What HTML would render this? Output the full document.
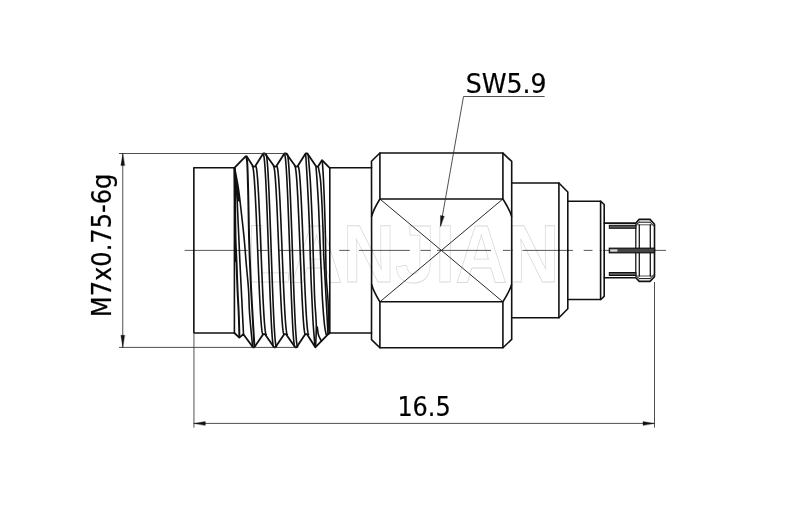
<!DOCTYPE html>
<html lang="en">
<head>
<meta charset="utf-8">
<title>Connector drawing</title>
<style>
html,body{margin:0;padding:0;background:#fff;}
body{width:800px;height:508px;overflow:hidden;}
svg{display:block;will-change:transform;}
</style>
</head>
<body>
<svg width="800" height="508" viewBox="0 0 800 508">
<rect x="0" y="0" width="800" height="508" fill="#fff"/>
<text id="wm" x="246.5" y="282" font-family="'Liberation Sans', sans-serif" font-weight="bold" font-size="81" fill="none" stroke="#dadada" stroke-width="0.8" textLength="313" lengthAdjust="spacingAndGlyphs">LANJIAN</text>
<line x1="184.60" y1="250.40" x2="247.80" y2="250.40" stroke="#303030" stroke-width="0.8" />
<line x1="257.40" y1="250.40" x2="267.80" y2="250.40" stroke="#303030" stroke-width="0.8" />
<line x1="278.00" y1="250.40" x2="330.00" y2="250.40" stroke="#303030" stroke-width="0.8" />
<line x1="339.20" y1="250.40" x2="349.60" y2="250.40" stroke="#303030" stroke-width="0.8" />
<line x1="359.00" y1="250.40" x2="409.80" y2="250.40" stroke="#303030" stroke-width="0.8" />
<line x1="420.50" y1="250.40" x2="430.60" y2="250.40" stroke="#303030" stroke-width="0.8" />
<line x1="437.00" y1="250.40" x2="491.00" y2="250.40" stroke="#303030" stroke-width="0.8" />
<line x1="503.00" y1="250.40" x2="510.50" y2="250.40" stroke="#303030" stroke-width="0.8" />
<line x1="522.50" y1="250.40" x2="573.00" y2="250.40" stroke="#303030" stroke-width="0.8" />
<line x1="583.70" y1="250.40" x2="592.50" y2="250.40" stroke="#303030" stroke-width="0.8" />
<line x1="604.50" y1="250.40" x2="666.00" y2="250.40" stroke="#303030" stroke-width="0.8" />
<polyline points="234.40,167.80 193.85,167.80 193.85,250.40" fill="none" stroke="#111" stroke-width="1.6" stroke-linejoin="round" stroke-linecap="round" />
<polyline points="234.40,333.00 193.85,333.00 193.85,250.40" fill="none" stroke="#111" stroke-width="1.6" stroke-linejoin="round" stroke-linecap="round" />
<polyline points="234.40,167.80 245.60,156.30 246.60,156.30 253.20,166.60 255.00,166.60 263.20,153.50 265.00,153.50 274.30,166.60 276.10,166.60 284.40,153.50 286.20,153.50 295.60,166.60 297.40,166.60 305.60,153.50 307.40,153.50 316.20,166.60 318.00,166.60 322.00,160.20 329.60,167.80" fill="none" stroke="#111" stroke-width="1.8" stroke-linejoin="round" stroke-linecap="round" />
<polyline points="234.40,333.00 239.30,337.60 243.40,334.20 252.90,347.30 254.30,347.30 263.20,334.20 265.00,334.20 274.00,347.30 275.40,347.30 284.20,334.20 286.00,334.20 295.20,347.30 296.60,347.30 305.20,334.20 307.00,334.20 315.30,347.30 328.20,334.20 329.80,333.00" fill="none" stroke="#111" stroke-width="1.8" stroke-linejoin="round" stroke-linecap="round" />
<line x1="329.80" y1="167.80" x2="329.80" y2="333.00" stroke="#111" stroke-width="1.6" />
<line x1="234.40" y1="167.80" x2="234.40" y2="333.00" stroke="#111" stroke-width="1.6" />
<polyline points="263.20,154.00 263.46,154.30 263.73,155.19 263.99,156.66 264.26,158.72 264.52,161.34 264.78,164.51 265.05,168.21 265.31,172.41 265.57,177.10 265.84,182.23 266.10,187.79 266.37,193.74 266.63,200.03 266.89,206.64 267.16,213.51 267.42,220.61 267.68,227.90 267.95,235.32 268.21,242.84 268.48,250.40 268.74,257.96 269.00,265.48 269.27,272.90 269.53,280.19 269.79,287.29 270.06,294.16 270.32,300.77 270.59,307.06 270.85,313.01 271.11,318.57 271.38,323.70 271.64,328.39 271.90,332.59 272.17,336.29 272.43,339.46 272.70,342.08 272.96,344.14 273.22,345.61 273.49,346.50 273.75,346.80" fill="none" stroke="#111" stroke-width="1.6" stroke-linejoin="round" stroke-linecap="round" />
<polyline points="265.90,154.00 266.16,154.30 266.43,155.19 266.69,156.66 266.96,158.72 267.22,161.34 267.48,164.51 267.75,168.21 268.01,172.41 268.27,177.10 268.54,182.23 268.80,187.79 269.07,193.74 269.33,200.03 269.59,206.64 269.86,213.51 270.12,220.61 270.38,227.90 270.65,235.32 270.91,242.84 271.18,250.40 271.44,257.96 271.70,265.48 271.97,272.90 272.23,280.19 272.49,287.29 272.76,294.16 273.02,300.77 273.29,307.06 273.55,313.01 273.81,318.57 274.08,323.70 274.34,328.39 274.60,332.59 274.87,336.29 275.13,339.46 275.40,342.08 275.66,344.14 275.92,345.61 276.19,346.50 276.45,346.80" fill="none" stroke="#111" stroke-width="1.6" stroke-linejoin="round" stroke-linecap="round" />
<polyline points="284.40,154.00 284.66,154.30 284.93,155.19 285.19,156.66 285.46,158.72 285.72,161.34 285.98,164.51 286.25,168.21 286.51,172.41 286.77,177.10 287.04,182.23 287.30,187.79 287.57,193.74 287.83,200.03 288.09,206.64 288.36,213.51 288.62,220.61 288.88,227.90 289.15,235.32 289.41,242.84 289.68,250.40 289.94,257.96 290.20,265.48 290.47,272.90 290.73,280.19 290.99,287.29 291.26,294.16 291.52,300.77 291.79,307.06 292.05,313.01 292.31,318.57 292.58,323.70 292.84,328.39 293.10,332.59 293.37,336.29 293.63,339.46 293.90,342.08 294.16,344.14 294.42,345.61 294.69,346.50 294.95,346.80" fill="none" stroke="#111" stroke-width="1.6" stroke-linejoin="round" stroke-linecap="round" />
<polyline points="287.10,154.00 287.36,154.30 287.63,155.19 287.89,156.66 288.16,158.72 288.42,161.34 288.68,164.51 288.95,168.21 289.21,172.41 289.47,177.10 289.74,182.23 290.00,187.79 290.27,193.74 290.53,200.03 290.79,206.64 291.06,213.51 291.32,220.61 291.58,227.90 291.85,235.32 292.11,242.84 292.38,250.40 292.64,257.96 292.90,265.48 293.17,272.90 293.43,280.19 293.69,287.29 293.96,294.16 294.22,300.77 294.49,307.06 294.75,313.01 295.01,318.57 295.28,323.70 295.54,328.39 295.80,332.59 296.07,336.29 296.33,339.46 296.60,342.08 296.86,344.14 297.12,345.61 297.39,346.50 297.65,346.80" fill="none" stroke="#111" stroke-width="1.6" stroke-linejoin="round" stroke-linecap="round" />
<polyline points="252.40,166.30 252.66,166.56 252.93,167.34 253.19,168.62 253.46,170.42 253.72,172.70 253.98,175.47 254.25,178.69 254.51,182.36 254.77,186.45 255.04,190.93 255.30,195.78 255.56,200.97 255.83,206.46 256.09,212.22 256.36,218.22 256.62,224.41 256.88,230.77 257.15,237.24 257.41,243.80 257.68,250.40 257.94,257.00 258.20,263.56 258.47,270.03 258.73,276.39 258.99,282.58 259.26,288.58 259.52,294.34 259.79,299.83 260.05,305.02 260.31,309.87 260.58,314.35 260.84,318.44 261.10,322.11 261.37,325.33 261.63,328.10 261.89,330.38 262.16,332.18 262.42,333.46 262.69,334.24 262.95,334.50" fill="none" stroke="#111" stroke-width="1.6" stroke-linejoin="round" stroke-linecap="round" />
<polyline points="255.70,166.30 255.96,166.56 256.23,167.34 256.49,168.62 256.75,170.42 257.02,172.70 257.28,175.47 257.55,178.69 257.81,182.36 258.07,186.45 258.34,190.93 258.60,195.78 258.87,200.97 259.13,206.46 259.39,212.22 259.66,218.22 259.92,224.41 260.18,230.77 260.45,237.24 260.71,243.80 260.97,250.40 261.24,257.00 261.50,263.56 261.77,270.03 262.03,276.39 262.29,282.58 262.56,288.58 262.82,294.34 263.08,299.83 263.35,305.02 263.61,309.87 263.88,314.35 264.14,318.44 264.40,322.11 264.67,325.33 264.93,328.10 265.19,330.38 265.46,332.18 265.72,333.46 265.99,334.24 266.25,334.50" fill="none" stroke="#111" stroke-width="1.6" stroke-linejoin="round" stroke-linecap="round" />
<polyline points="273.50,166.30 273.76,166.56 274.03,167.34 274.29,168.62 274.56,170.42 274.82,172.70 275.08,175.47 275.35,178.69 275.61,182.36 275.87,186.45 276.14,190.93 276.40,195.78 276.67,200.97 276.93,206.46 277.19,212.22 277.46,218.22 277.72,224.41 277.98,230.77 278.25,237.24 278.51,243.80 278.77,250.40 279.04,257.00 279.30,263.56 279.57,270.03 279.83,276.39 280.09,282.58 280.36,288.58 280.62,294.34 280.88,299.83 281.15,305.02 281.41,309.87 281.68,314.35 281.94,318.44 282.20,322.11 282.47,325.33 282.73,328.10 283.00,330.38 283.26,332.18 283.52,333.46 283.79,334.24 284.05,334.50" fill="none" stroke="#111" stroke-width="1.6" stroke-linejoin="round" stroke-linecap="round" />
<polyline points="276.80,166.30 277.06,166.56 277.33,167.34 277.59,168.62 277.86,170.42 278.12,172.70 278.38,175.47 278.65,178.69 278.91,182.36 279.17,186.45 279.44,190.93 279.70,195.78 279.97,200.97 280.23,206.46 280.49,212.22 280.76,218.22 281.02,224.41 281.28,230.77 281.55,237.24 281.81,243.80 282.07,250.40 282.34,257.00 282.60,263.56 282.87,270.03 283.13,276.39 283.39,282.58 283.66,288.58 283.92,294.34 284.19,299.83 284.45,305.02 284.71,309.87 284.98,314.35 285.24,318.44 285.50,322.11 285.77,325.33 286.03,328.10 286.30,330.38 286.56,332.18 286.82,333.46 287.09,334.24 287.35,334.50" fill="none" stroke="#111" stroke-width="1.6" stroke-linejoin="round" stroke-linecap="round" />
<polyline points="294.80,166.30 295.06,166.56 295.33,167.34 295.59,168.62 295.86,170.42 296.12,172.70 296.38,175.47 296.65,178.69 296.91,182.36 297.17,186.45 297.44,190.93 297.70,195.78 297.97,200.97 298.23,206.46 298.49,212.22 298.76,218.22 299.02,224.41 299.28,230.77 299.55,237.24 299.81,243.80 300.07,250.40 300.34,257.00 300.60,263.56 300.87,270.03 301.13,276.39 301.39,282.58 301.66,288.58 301.92,294.34 302.19,299.83 302.45,305.02 302.71,309.87 302.98,314.35 303.24,318.44 303.50,322.11 303.77,325.33 304.03,328.10 304.30,330.38 304.56,332.18 304.82,333.46 305.09,334.24 305.35,334.50" fill="none" stroke="#111" stroke-width="1.6" stroke-linejoin="round" stroke-linecap="round" />
<polyline points="298.10,166.30 298.36,166.56 298.63,167.34 298.89,168.62 299.16,170.42 299.42,172.70 299.68,175.47 299.95,178.69 300.21,182.36 300.47,186.45 300.74,190.93 301.00,195.78 301.27,200.97 301.53,206.46 301.79,212.22 302.06,218.22 302.32,224.41 302.58,230.77 302.85,237.24 303.11,243.80 303.38,250.40 303.64,257.00 303.90,263.56 304.17,270.03 304.43,276.39 304.69,282.58 304.96,288.58 305.22,294.34 305.49,299.83 305.75,305.02 306.01,309.87 306.28,314.35 306.54,318.44 306.80,322.11 307.07,325.33 307.33,328.10 307.60,330.38 307.86,332.18 308.12,333.46 308.39,334.24 308.65,334.50" fill="none" stroke="#111" stroke-width="1.6" stroke-linejoin="round" stroke-linecap="round" />
<path d="M305.70,154.20 C305.96,158.50 306.78,171.53 307.25,180.00 C307.72,188.47 308.12,196.67 308.50,205.00 C308.88,213.33 309.21,221.67 309.50,230.00 C309.79,238.33 310.00,247.00 310.25,255.00 C310.50,263.00 310.71,270.50 311.00,278.00 C311.29,285.50 311.62,292.17 312.00,300.00 C312.38,307.83 312.75,317.25 313.25,325.00 C313.75,332.75 314.71,342.92 315.00,346.50" fill="none" stroke="#111" stroke-width="1.6" stroke-linecap="round"/>
<path d="M308.20,154.60 C308.54,158.83 309.70,171.60 310.25,180.00 C310.80,188.40 311.12,196.67 311.50,205.00 C311.88,213.33 312.21,221.67 312.50,230.00 C312.79,238.33 313.00,247.00 313.25,255.00 C313.50,263.00 313.75,270.50 314.00,278.00 C314.25,285.50 314.37,292.17 314.75,300.00 C315.13,307.83 316.16,317.25 316.30,325.00 C316.44,332.75 315.72,342.92 315.60,346.50" fill="none" stroke="#111" stroke-width="1.6" stroke-linecap="round"/>
<path d="M317.30,327.00 C317.50,328.33 317.83,332.70 318.50,335.00 C319.17,337.30 320.83,339.83 321.30,340.80" fill="none" stroke="#111" stroke-width="1.6" stroke-linecap="round"/>
<path d="M316.00,167.00 C316.17,169.17 316.58,173.67 317.00,180.00 C317.42,186.33 318.08,196.67 318.50,205.00 C318.92,213.33 319.17,221.67 319.50,230.00 C319.83,238.33 320.17,247.00 320.50,255.00 C320.83,263.00 321.17,270.50 321.50,278.00 C321.83,285.50 322.00,292.17 322.50,300.00 C323.00,307.83 323.88,319.25 324.50,325.00 C325.12,330.75 325.92,332.92 326.20,334.50" fill="none" stroke="#111" stroke-width="1.6" stroke-linecap="round"/>
<path d="M318.30,167.00 C318.67,169.17 319.88,173.67 320.50,180.00 C321.12,186.33 321.58,196.67 322.00,205.00 C322.42,213.33 322.71,221.67 323.00,230.00 C323.29,238.33 323.42,247.00 323.75,255.00 C324.08,263.00 324.59,270.50 325.00,278.00 C325.41,285.50 325.78,292.17 326.20,300.00 C326.62,307.83 327.20,319.33 327.50,325.00 C327.80,330.67 327.92,332.50 328.00,334.00" fill="none" stroke="#111" stroke-width="1.6" stroke-linecap="round"/>
<path d="M322.30,160.60 C322.50,163.83 323.13,172.60 323.50,180.00 C323.87,187.40 324.21,196.67 324.50,205.00 C324.79,213.33 325.04,221.67 325.25,230.00 C325.46,238.33 325.57,247.00 325.75,255.00 C325.93,263.00 325.93,270.50 326.30,278.00 C326.68,285.50 327.59,292.17 328.00,300.00 C328.41,307.83 328.55,319.50 328.75,325.00 C328.95,330.50 329.12,331.67 329.20,333.00" fill="none" stroke="#111" stroke-width="1.6" stroke-linecap="round"/>
<line x1="235.10" y1="172.00" x2="235.10" y2="262.00" stroke="#111" stroke-width="2.0" />
<path d="M234.60,168.00 C234.65,171.67 234.82,182.33 234.90,190.00 C234.98,197.67 235.00,205.83 235.10,214.00 C235.20,222.17 235.25,230.67 235.50,239.00 C235.75,247.33 236.27,255.67 236.60,264.00 C236.93,272.33 237.14,280.67 237.50,289.00 C237.86,297.33 238.43,306.00 238.75,314.00 C239.07,322.00 239.29,333.17 239.40,337.00" fill="none" stroke="#111" stroke-width="2.0" stroke-linecap="round"/>
<path d="M234.60,168.00 C234.93,171.50 236.07,181.33 236.60,189.00 C237.12,196.67 237.37,205.67 237.75,214.00 C238.13,222.33 238.53,230.67 238.90,239.00 C239.28,247.33 239.61,255.67 240.00,264.00 C240.39,272.33 240.83,280.67 241.25,289.00 C241.67,297.33 242.12,306.50 242.50,314.00 C242.88,321.50 243.33,330.67 243.50,334.00" fill="none" stroke="#111" stroke-width="1.6" stroke-linecap="round"/>
<path d="M234.60,168.00 C235.25,171.50 237.35,181.33 238.50,189.00 C239.65,196.67 240.55,205.67 241.50,214.00 C242.45,222.33 243.41,230.67 244.20,239.00 C244.99,247.33 245.53,255.67 246.25,264.00 C246.97,272.33 247.94,280.67 248.50,289.00 C249.06,297.33 248.92,304.42 249.60,314.00 C250.28,323.58 252.10,341.08 252.60,346.50" fill="none" stroke="#111" stroke-width="1.6" stroke-linecap="round"/>
<path d="M246.30,156.80 C246.47,158.00 247.00,158.63 247.30,164.00 C247.60,169.37 247.88,180.67 248.10,189.00 C248.32,197.33 248.43,205.67 248.60,214.00 C248.77,222.33 248.87,230.67 249.10,239.00 C249.33,247.33 249.67,255.67 250.00,264.00 C250.33,272.33 250.68,280.67 251.10,289.00 C251.52,297.33 251.95,304.42 252.50,314.00 C253.05,323.58 254.08,341.08 254.40,346.50" fill="none" stroke="#111" stroke-width="2.0" stroke-linecap="round"/>
<polygon points="234.4,168 238.6,189 240.2,202 237.6,201 236.3,195 235.0,185" fill="#111"/>
<polyline points="329.80,167.80 371.60,167.80" fill="none" stroke="#111" stroke-width="1.6" stroke-linejoin="round" stroke-linecap="round" />
<polyline points="329.80,333.00 371.60,333.00" fill="none" stroke="#111" stroke-width="1.6" stroke-linejoin="round" stroke-linecap="round" />
<polyline points="371.60,250.40 371.50,161.20 379.90,153.05 502.90,153.05 511.70,161.40 511.70,250.40" fill="none" stroke="#111" stroke-width="1.6" stroke-linejoin="round" stroke-linecap="round" />
<polyline points="371.60,250.40 371.50,339.60 379.90,347.75 502.90,347.75 511.70,339.40 511.70,250.40" fill="none" stroke="#111" stroke-width="1.6" stroke-linejoin="round" stroke-linecap="round" />
<polyline points="379.90,153.05 379.90,199.00 502.90,199.00 502.90,153.05" fill="none" stroke="#111" stroke-width="1.6" stroke-linejoin="round" stroke-linecap="round" />
<polyline points="379.90,347.75 379.90,301.80 502.90,301.80 502.90,347.75" fill="none" stroke="#111" stroke-width="1.6" stroke-linejoin="round" stroke-linecap="round" />
<path d="M379.9,199.0 Q373.2,210 371.6,216.6" fill="none" stroke="#111" stroke-width="1.6"/>
<path d="M379.9,301.80 Q373.2,290.80 371.6,284.20" fill="none" stroke="#111" stroke-width="1.6"/>
<path d="M502.9,199.0 Q509.8,210 511.7,216.6" fill="none" stroke="#111" stroke-width="1.6"/>
<path d="M502.9,301.80 Q509.8,290.80 511.7,284.20" fill="none" stroke="#111" stroke-width="1.6"/>
<line x1="379.90" y1="199.00" x2="502.90" y2="301.80" stroke="#111" stroke-width="0.9" />
<line x1="379.90" y1="301.80" x2="502.90" y2="199.00" stroke="#111" stroke-width="0.9" />
<polyline points="511.70,183.00 558.90,183.00 567.80,192.00 567.80,250.40" fill="none" stroke="#111" stroke-width="1.6" stroke-linejoin="round" stroke-linecap="round" />
<polyline points="511.70,317.80 558.90,317.80 567.80,308.80 567.80,250.40" fill="none" stroke="#111" stroke-width="1.6" stroke-linejoin="round" stroke-linecap="round" />
<polyline points="558.90,183.00 558.90,250.40" fill="none" stroke="#111" stroke-width="1.6" stroke-linejoin="round" stroke-linecap="round" />
<polyline points="558.90,317.80 558.90,250.40" fill="none" stroke="#111" stroke-width="1.6" stroke-linejoin="round" stroke-linecap="round" />
<polyline points="567.80,201.30 600.80,201.30 604.20,204.50 604.20,250.40" fill="none" stroke="#111" stroke-width="1.6" stroke-linejoin="round" stroke-linecap="round" />
<polyline points="567.80,299.50 600.80,299.50 604.20,296.30 604.20,250.40" fill="none" stroke="#111" stroke-width="1.6" stroke-linejoin="round" stroke-linecap="round" />
<polyline points="600.60,201.30 600.60,250.40" fill="none" stroke="#111" stroke-width="1.6" stroke-linejoin="round" stroke-linecap="round" />
<polyline points="600.60,299.50 600.60,250.40" fill="none" stroke="#111" stroke-width="1.6" stroke-linejoin="round" stroke-linecap="round" />
<polyline points="604.20,223.10 635.90,223.10 639.20,219.40 650.00,219.40 654.50,224.20 654.50,250.40" fill="none" stroke="#111" stroke-width="1.6" stroke-linejoin="round" stroke-linecap="round" />
<polyline points="604.20,277.70 635.90,277.70 639.20,281.40 650.00,281.40 654.50,276.60 654.50,250.40" fill="none" stroke="#111" stroke-width="1.6" stroke-linejoin="round" stroke-linecap="round" />
<polyline points="639.40,222.20 650.00,222.20" fill="none" stroke="#111" stroke-width="1.0" stroke-linejoin="round" stroke-linecap="round" />
<polyline points="639.40,278.60 650.00,278.60" fill="none" stroke="#111" stroke-width="1.0" stroke-linejoin="round" stroke-linecap="round" />
<polyline points="636.00,224.80 639.40,222.20" fill="none" stroke="#111" stroke-width="1.0" stroke-linejoin="round" stroke-linecap="round" />
<polyline points="636.00,276.00 639.40,278.60" fill="none" stroke="#111" stroke-width="1.0" stroke-linejoin="round" stroke-linecap="round" />
<polyline points="650.00,222.20 654.30,226.50" fill="none" stroke="#111" stroke-width="1.0" stroke-linejoin="round" stroke-linecap="round" />
<polyline points="650.00,278.60 654.30,274.30" fill="none" stroke="#111" stroke-width="1.0" stroke-linejoin="round" stroke-linecap="round" />
<polyline points="636.00,224.80 654.00,224.80" fill="none" stroke="#555" stroke-width="1.0" stroke-linejoin="round" stroke-linecap="round" />
<polyline points="636.00,276.00 654.00,276.00" fill="none" stroke="#555" stroke-width="1.0" stroke-linejoin="round" stroke-linecap="round" />
<polyline points="635.80,224.80 635.80,250.40" fill="none" stroke="#111" stroke-width="1.25" stroke-linejoin="round" stroke-linecap="round" />
<polyline points="635.80,276.00 635.80,250.40" fill="none" stroke="#111" stroke-width="1.25" stroke-linejoin="round" stroke-linecap="round" />
<polyline points="639.30,224.80 639.30,250.40" fill="none" stroke="#111" stroke-width="1.25" stroke-linejoin="round" stroke-linecap="round" />
<polyline points="639.30,276.00 639.30,250.40" fill="none" stroke="#111" stroke-width="1.25" stroke-linejoin="round" stroke-linecap="round" />
<polyline points="650.30,224.80 650.30,250.40" fill="none" stroke="#111" stroke-width="1.25" stroke-linejoin="round" stroke-linecap="round" />
<polyline points="650.30,276.00 650.30,250.40" fill="none" stroke="#111" stroke-width="1.25" stroke-linejoin="round" stroke-linecap="round" />
<rect x="609.30" y="225.30" width="26.60" height="3.00" fill="#555" stroke="#111" stroke-width="1.0"/>
<rect x="609.30" y="272.50" width="26.60" height="3.00" fill="#555" stroke="#111" stroke-width="1.0"/>
<rect x="609.30" y="248.20" width="45.20" height="4.60" fill="#444" stroke="#111" stroke-width="1.2"/>
<rect x="610.20" y="249.40" width="7.20" height="2.20" fill="#ddd" stroke="none" stroke-width="0"/>
<line x1="119.00" y1="153.50" x2="285.40" y2="153.50" stroke="#303030" stroke-width="0.85" />
<line x1="119.00" y1="347.40" x2="296.00" y2="347.40" stroke="#303030" stroke-width="0.85" />
<line x1="122.75" y1="153.50" x2="122.75" y2="347.40" stroke="#303030" stroke-width="0.85" />
<polygon points="122.75,153.70 120.85,165.60 124.65,165.60" fill="#111" stroke="#111" stroke-width="0.3" stroke-linejoin="round" stroke-linecap="round" />
<polygon points="122.75,347.20 120.85,335.30 124.65,335.30" fill="#111" stroke="#111" stroke-width="0.3" stroke-linejoin="round" stroke-linecap="round" />
<line x1="193.95" y1="334.00" x2="193.95" y2="427.60" stroke="#303030" stroke-width="0.85" />
<line x1="654.50" y1="282.00" x2="654.50" y2="427.60" stroke="#303030" stroke-width="0.85" />
<line x1="193.95" y1="423.40" x2="654.50" y2="423.40" stroke="#303030" stroke-width="0.85" />
<polygon points="194.00,423.40 205.30,421.50 205.30,425.30" fill="#111" stroke="#111" stroke-width="0.3" stroke-linejoin="round" stroke-linecap="round" />
<polygon points="654.30,423.40 643.00,421.50 643.00,425.30" fill="#111" stroke="#111" stroke-width="0.3" stroke-linejoin="round" stroke-linecap="round" />
<line x1="463.50" y1="96.50" x2="544.60" y2="96.50" stroke="#303030" stroke-width="0.85" />
<line x1="463.50" y1="96.50" x2="440.70" y2="225.50" stroke="#303030" stroke-width="0.85" />
<polygon points="440.45,226.50 440.45,215.53 444.20,216.19" fill="#111" stroke="#111" stroke-width="0.3" stroke-linejoin="round" stroke-linecap="round" />
<text id="t1" x="465.8" y="92.5" font-family="'DejaVu Sans Condensed', 'DejaVu Sans', 'Liberation Sans', sans-serif" font-size="27.2" fill="#000" stroke="#000" stroke-width="0.2" stroke-linejoin="round" textLength="80.8" lengthAdjust="spacingAndGlyphs">SW5.9</text>
<text id="t2" x="397.4" y="416.3" font-family="'DejaVu Sans Condensed', 'DejaVu Sans', 'Liberation Sans', sans-serif" font-size="26.8" fill="#000" stroke="#000" stroke-width="0.2" stroke-linejoin="round" textLength="53.2" lengthAdjust="spacingAndGlyphs">16.5</text>
<text id="t3" transform="translate(111.2,317.15) rotate(-90)" font-family="'DejaVu Sans Condensed', 'DejaVu Sans', 'Liberation Sans', sans-serif" font-size="26.8" fill="#000" stroke="#000" stroke-width="0.2" stroke-linejoin="round" textLength="143.5" lengthAdjust="spacingAndGlyphs">M7x0.75-6g</text>
</svg>
</body>
</html>
